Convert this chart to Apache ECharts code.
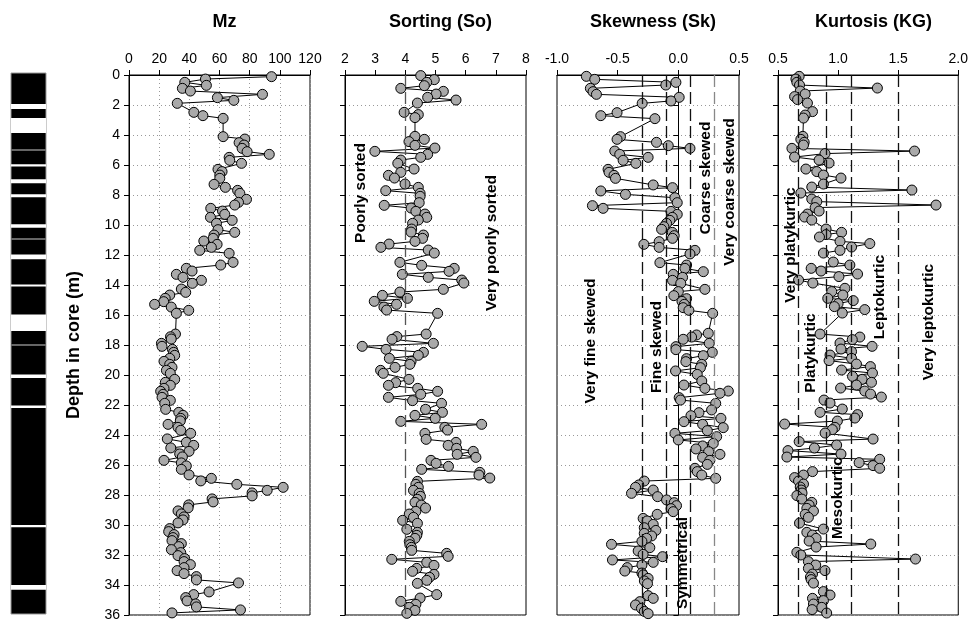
<!DOCTYPE html>
<html><head><meta charset="utf-8">
<script src="https://cdn.jsdelivr.net/npm/echarts/dist/echarts.min.js"></script>
<style>html,body{margin:0;padding:0;background:#fff}#c{width:971px;height:626px}</style>
</head><body><div id="c"></div><script>
// ---------- DATA ----------
const depthTicks = [0,2,4,6,8,10,12,14,16,18,20,22,24,26,28,30,32,34,36];
const coreGaps = [[2.07,2.4],[3.0,4.0],[6.07,6.22],[7.07,7.33],[8.07,8.27],[10.07,10.29],[12.07,12.4],[14.07,14.2],[16.07,17.17],[20.07,20.29],[22.13,22.29],[30.07,30.22],[34.07,34.38]];
const coreMarks = [5.13, 11.0, 18.05];

const mzDepth = [0.11,0.27,0.49,0.69,0.89,1.07,1.29,1.51,1.69,1.89,2.49,2.71,2.89,4.11,4.27,4.51,4.67,4.89,5.11,5.29,5.49,5.69,5.89,6.29,6.44,6.67,6.89,7.29,7.49,7.69,7.89,8.29,8.49,8.67,8.89,9.07,9.29,9.49,9.69,9.89,10.31,10.49,10.67,10.89,11.07,11.29,11.49,11.69,11.89,12.49,12.67,12.89,13.07,13.29,13.49,13.69,13.89,14.27,14.49,14.67,14.89,15.11,15.29,15.47,15.69,15.89,17.27,17.45,17.6,17.89,18.09,18.29,18.49,18.69,18.89,19.09,19.29,19.49,19.69,19.89,20.29,20.49,20.69,20.89,21.09,21.29,21.49,21.69,21.89,22.29,22.49,22.69,22.89,23.06,23.29,23.49,23.69,23.89,24.26,24.49,24.69,24.86,25.09,25.26,25.46,25.69,25.86,26.06,26.29,26.66,26.89,27.06,27.29,27.49,27.69,27.86,28.06,28.26,28.46,28.66,28.86,29.06,29.26,29.46,29.66,29.86,30.24,30.44,30.64,30.84,31.04,31.24,31.44,31.64,31.84,32.04,32.24,32.44,32.64,32.84,33.04,33.24,33.44,33.66,33.86,34.46,34.64,34.84,35.06,35.26,35.46,35.66,35.86];
const mzValue = [94.5,50.7,37,51.3,35.4,40.7,88.5,58.6,69.5,32,43,49,62.4,62.4,76.8,73,76.3,75,78.3,93,66.4,66.8,74.6,59,61.7,60.2,60.2,56.4,63.9,72,73.5,77.9,72.6,70.1,54.2,62,63.5,54,68.4,58,59,70.1,56.4,55.8,49.6,58.4,54.6,46.9,66.4,69,60.8,38,41.8,31.4,35.8,48,42,34.7,37.6,27,24,23,17,28,39.6,31.4,30.8,27.5,28,21.5,21.9,28.8,29.6,30.3,27,23.2,27,28.5,24.8,27.4,30.3,24.1,27.4,23.2,21,22.6,21.9,27.4,23.7,24.3,33,35.8,34.3,34,25.9,32.5,34.3,40.9,25.4,38,42.9,27.7,39.8,33.6,35.4,23.2,34.7,38,34.7,39.8,54.6,47.6,71.5,102.2,91.6,81.6,81.6,55.1,55.8,39.6,39.2,32.5,34.7,36.5,35.8,32.5,27,26.3,29.9,29.2,28.5,34.7,33,28.1,34.3,32.5,36.9,36.5,40.7,36.5,31.9,36.5,44.7,44.7,72.6,53.1,42.9,37.6,38.5,44.2,44.7,73.9,28.5];

const soDepth = [0.04,0.31,0.49,0.71,0.89,1.09,1.27,1.49,1.67,1.87,2.49,2.64,2.84,4.09,4.29,4.44,4.69,4.87,5.09,5.29,5.49,5.67,5.89,6.27,6.49,6.69,6.87,7.27,7.49,7.71,7.89,8.09,8.51,8.69,8.87,9.09,9.27,9.49,9.67,9.89,10.27,10.47,10.67,10.89,11.09,11.27,11.49,11.67,11.87,12.49,12.69,12.89,13.09,13.29,13.49,13.67,13.87,14.29,14.47,14.69,14.89,15.09,15.29,15.47,15.67,15.89,17.27,17.44,17.62,17.89,18.09,18.29,18.49,18.69,18.89,19.09,19.29,19.49,19.69,19.89,20.29,20.51,20.69,20.89,21.09,21.29,21.49,21.71,21.89,22.29,22.49,22.69,22.89,23.09,23.29,23.49,23.67,23.89,24.29,24.49,24.69,24.89,25.09,25.29,25.49,25.69,25.89,26.09,26.29,26.49,26.67,26.87,27.09,27.29,27.49,27.69,27.89,28.09,28.29,28.49,28.67,28.87,29.09,29.27,29.49,29.69,29.89,30.29,30.49,30.69,30.89,31.09,31.31,31.49,31.69,31.89,32.09,32.29,32.49,32.69,32.89,33.09,33.29,33.49,33.69,33.89,34.64,34.87,35.09,35.29,35.49,35.69,35.89];
const soValue = [4.51,4.96,4.71,4.63,3.85,5.26,5.02,4.74,5.68,4.4,3.96,4.43,4.32,4.32,4.63,4.12,4.32,4.98,2.99,4.74,4.51,3.85,3.75,4.29,3.85,3.44,3.64,3.99,4.43,3.35,4.49,4.49,4.46,3.3,4.19,4.35,4.65,4.71,4.43,4.24,4.21,4.19,4.6,4.57,4.32,3.46,3.19,4.76,4.96,3.82,4.54,5.62,5.45,3.9,4.76,5.87,5.94,5.26,3.82,3.24,4.07,2.97,3.71,3.29,3.38,5.07,4.69,3.72,3.56,4.93,2.57,3.36,4.6,4.43,3.47,4.19,4.15,3.66,3.18,3.27,4.12,3.68,3.44,4.41,5.07,4.51,3.44,4.24,5.2,4.67,5.23,4.32,4.99,3.85,6.53,5.31,5.4,4.65,4.69,5.68,5.42,5.7,6.25,5.72,6.34,4.85,5.02,5.43,4.54,6.47,6.44,6.8,4.4,4.35,4.43,4.27,4.46,4.5,4.4,4.32,4.53,4.67,4.35,4.13,4.27,3.91,4.4,4.05,4.4,4.38,4.32,4.13,4.15,4.2,4.21,5.37,5.42,3.55,4.71,4.95,4.38,4.24,4.95,4.8,4.71,4.4,5.04,4.49,3.85,4.35,4.13,4.32,4.05];

const skDepth = [0.09,0.29,0.49,0.67,0.89,1.11,1.29,1.49,1.73,1.89,2.51,2.71,2.91,4.11,4.29,4.49,4.71,4.89,5.07,5.29,5.49,5.69,5.89,6.29,6.49,6.69,6.89,7.33,7.51,7.73,7.96,8.18,8.51,8.71,8.89,9.09,9.29,9.49,9.69,9.89,10.11,10.29,10.49,10.71,10.89,11.11,11.29,11.49,11.69,11.93,12.51,12.67,12.89,13.11,13.29,13.49,13.69,13.89,14.29,14.44,14.71,14.91,15.09,15.29,15.51,15.69,15.89,17.22,17.33,17.47,17.62,17.89,18.11,18.31,18.49,18.71,18.91,19.11,19.29,19.51,19.73,19.96,20.4,20.67,20.89,21.07,21.22,21.51,21.67,21.89,22.33,22.51,22.71,22.89,23.11,23.29,23.51,23.71,23.89,24.11,24.33,24.56,24.73,24.93,25.11,25.29,25.49,25.69,25.96,26.22,26.44,26.67,26.89,27.07,27.33,27.49,27.67,27.89,28.11,28.33,28.51,28.71,28.91,29.11,29.29,29.56,29.73,29.96,30.18,30.36,30.56,30.73,30.89,31.09,31.29,31.51,31.73,31.96,32.11,32.33,32.49,32.67,32.84,33.07,33.2,33.33,33.56,33.73,33.91,34.71,34.89,35.11,35.33,35.56,35.76,35.91];
const skValue = [-0.758,-0.689,-0.02,-0.103,-0.725,-0.703,-0.675,0.007,-0.061,-0.298,-0.505,-0.639,-0.193,-0.477,-0.505,-0.18,-0.083,0.096,-0.524,-0.483,-0.249,-0.455,-0.35,-0.579,-0.571,-0.53,-0.518,-0.207,-0.048,-0.639,-0.436,-0.028,-0.009,-0.708,-0.62,-0.061,-0.009,-0.05,-0.07,-0.097,-0.119,-0.138,-0.05,-0.034,-0.048,-0.158,-0.284,-0.158,0.137,0.096,-0.152,0.068,0.054,0.206,-0.042,0.035,-0.048,0.02,0.219,0,-0.037,0.068,0.03,0.049,0.04,0.087,0.283,0.247,0.15,0.109,0.04,0.255,-0.02,-0.02,0.28,0.206,0.068,0.062,0.193,0.182,-0.023,0.156,0.193,0.046,0.219,0.412,0.343,0.007,0.018,0.308,0.274,0.17,0.104,0.351,0.046,0.2,0.37,0.239,-0.028,0.316,0,0.288,0.2,0.145,0.25,0.343,0.2,0.26,0.239,0.137,0.156,0.193,0.308,-0.281,-0.326,-0.353,-0.207,-0.386,-0.171,-0.097,-0.034,-0.015,-0.06,-0.042,-0.174,-0.29,-0.257,-0.207,-0.281,-0.185,-0.281,-0.22,-0.262,-0.3,-0.551,-0.235,-0.331,-0.29,-0.13,-0.543,-0.207,-0.3,-0.421,-0.441,-0.3,-0.29,-0.249,-0.28,-0.254,-0.249,-0.207,-0.317,-0.353,-0.304,-0.28,-0.249];

const kgDepth = [0.09,0.27,0.49,0.67,0.87,1.07,1.27,1.44,1.64,1.87,2.44,2.67,2.87,4.09,4.29,4.49,4.67,4.89,5.07,5.24,5.47,5.67,5.87,6.27,6.44,6.67,6.87,7.27,7.47,7.67,7.87,8.27,8.44,8.67,8.84,9.07,9.27,9.47,9.67,10.27,10.49,10.64,10.8,11.09,11.24,11.47,11.69,11.87,12.47,12.67,12.89,13.07,13.27,13.44,13.67,13.87,14.22,14.44,14.67,14.89,15.04,15.24,15.44,15.64,15.87,17.27,17.47,17.64,17.87,18.09,18.27,18.44,18.67,18.89,19.04,19.27,19.44,19.67,19.87,20.09,20.29,20.49,20.67,20.87,21.07,21.27,21.47,21.67,21.87,22.27,22.49,22.64,22.87,23.07,23.27,23.49,23.64,23.87,24.27,24.44,24.67,24.87,25.04,25.27,25.47,25.62,25.84,26.04,26.22,26.44,26.67,26.84,27.07,27.27,27.47,27.67,27.87,28.04,28.27,28.49,28.67,28.89,29.07,29.29,29.49,29.87,30.27,30.49,30.67,30.89,31.07,31.27,31.47,31.82,32.0,32.27,32.44,32.67,32.89,33.04,33.27,33.47,33.64,33.87,34.44,34.67,34.89,35.04,35.27,35.49,35.64,35.87];
const kgValue = [0.676,0.649,0.657,0.679,1.327,0.685,0.726,0.638,0.663,0.745,0.787,0.726,0.712,0.707,0.69,0.718,0.712,0.616,1.636,0.891,0.638,0.842,0.925,0.732,0.823,0.878,1.024,0.878,0.781,1.614,0.69,0.781,0.823,1.815,0.809,0.842,0.745,0.721,0.781,0.9,1.029,0.9,0.845,1.016,1.264,1.112,1.016,0.878,0.96,1.098,0.776,0.858,1.162,1.007,0.671,0.79,1.057,0.947,1.04,0.914,1.126,1.0,0.969,1.222,1.035,0.85,1.181,1.118,1.016,1.283,1.024,1.112,0.933,1.112,0.925,1.153,1.269,1.029,1.286,1.12,1.2,1.278,1.153,1.021,1.222,1.27,1.36,0.883,0.933,1.035,0.85,1.162,1.14,0.994,0.555,0.974,0.952,0.892,1.291,0.676,0.988,0.803,0.583,1.024,0.574,1.346,1.175,1.291,1.346,0.787,0.712,0.638,0.671,0.712,0.685,0.693,0.7,0.657,0.698,0.781,0.759,0.74,0.795,0.726,0.753,0.679,0.878,0.74,0.787,0.817,0.759,1.272,0.817,0.657,0.69,1.644,0.753,0.814,0.753,0.891,0.787,0.77,0.776,0.795,0.878,0.933,0.787,0.878,0.795,0.864,0.784,0.905];

const soLimits = [4];
const skLimits = [-0.3, -0.1, 0.1, 0.3];
const kgLimits = [0.67, 0.9, 1.11, 1.5];

const titles = ['Mz', 'Sorting (So)', 'Skewness (Sk)', 'Kurtosis (KG)'];
const yName = 'Depth in core (m)';

// ---------- LAYOUT ----------
const FONT = 'Arial, "Liberation Sans", sans-serif';
const TOP = 75, H = 540;
const panels = [
  {left:129, width:181, min:0, max:120, interval:20, dec:0, vgrid:true, d:mzDepth, v:mzValue, lim:[], limColor:[]},
  {left:345, width:181, min:2, max:8, interval:1, dec:0, vgrid:false, d:soDepth, v:soValue, lim:soLimits, limColor:['#555']},
  {left:557, width:182, min:-1, max:0.5, interval:0.5, dec:1, vgrid:false, d:skDepth, v:skValue, lim:skLimits, limColor:['#111','#111','#111','#888']},
  {left:778, width:181, min:0.5, max:2.0, interval:0.5, dec:1, vgrid:false, d:kgDepth, v:kgValue, lim:kgLimits, limColor:['#111','#111','#111','#111']}
];

const grids = [{left:11, top:73, width:35, height:541, show:true, borderColor:'#999', borderWidth:1, backgroundColor:'#000'}];
const xAxes = [{gridIndex:0, type:'value', min:0, max:1, show:false}];
const yAxes = [{gridIndex:0, type:'value', min:0, max:36, inverse:true, show:false}];
const series = [{
  type:'scatter', xAxisIndex:0, yAxisIndex:0, data:[[0.5,1]], symbolSize:0, silent:true,
  markArea:{silent:true, itemStyle:{color:'#fff'}, data: coreGaps.map(g=>[{yAxis:g[0]},{yAxis:g[1]}])},
  markLine:{silent:true, symbol:['none','none'], label:{show:false}, lineStyle:{color:'#666', width:2, type:'solid'}, data: coreMarks.map(m=>({yAxis:m}))}
}];
const titleArr = [];

panels.forEach((p,i)=>{
  const gi = i+1;
  grids.push({left:p.left, top:TOP, width:p.width, height:H, show:true, borderColor:'#000', borderWidth:1});
  xAxes.push({
    gridIndex:gi, type:'value', position:'top', min:p.min, max:p.max, interval:p.interval,
    axisLine:{show:true, lineStyle:{color:'#000', width:1}},
    axisTick:{show:true, inside:false, length:5, lineStyle:{color:'#000'}},
    axisLabel:{show:true, color:'#000', fontSize:14, fontFamily:FONT, margin:9,
      formatter: v => Number(v).toFixed(p.dec)},
    splitLine:{show:p.vgrid, lineStyle:{color:'#999', type:[1,3]}}
  });
  yAxes.push({
    gridIndex:gi, type:'value', min:0, max:36, interval:2, inverse:true,
    axisLine:{show:true, lineStyle:{color:'#000'}},
    axisTick:{show:true, inside:false, length:5, lineStyle:{color:'#000'}},
    axisLabel:{show:i===0, color:'#000', fontSize:14, fontFamily:FONT, margin:9},
    splitLine:{show:true, lineStyle:{color:'#999', type:[1,3]}},
    name: i===0 ? yName : '', nameLocation:'middle', nameRotate:90, nameGap:46,
    nameTextStyle:{color:'#000', fontSize:18, fontWeight:'bold', fontFamily:FONT}
  });
  const pts = p.d.map((d,k)=>[p.v[k], d]);
  series.push({
    type:'line', xAxisIndex:gi, yAxisIndex:gi, data:pts, symbol:'circle', symbolSize:10,
    showAllSymbol:true, animation:false, z:3,
    itemStyle:{color:'#a9a9a9', borderColor:'#000', borderWidth:1},
    lineStyle:{color:'#000', width:1},
    markLine:{silent:true, symbol:['none','none'], label:{show:false}, animation:false,
      data: p.lim.map((v,k)=>({xAxis:v, lineStyle:{color:p.limColor[k], width:1.3, type:[12,5]}}))}
  });
  titleArr.push({text:titles[i], left:p.left + p.width/2, top:8, textAlign:'center',
    textStyle:{fontSize:18, fontWeight:'bold', color:'#000', fontFamily:FONT}});
});

function vtext(txt, x, y){
  return {type:'text', x:x, y:y, rotation:Math.PI/2, z:10,
    style:{text:txt, fill:'#000', font:'bold 15.5px ' + FONT, textAlign:'center', textVerticalAlign:'middle'}};
}
const graphics = [
  vtext('Poorly sorted', 361, 193),
  vtext('Very poorly sorted', 492, 243),
  vtext('Very fine skewed', 591, 341),
  vtext('Fine skewed', 657, 347),
  vtext('Symmetrical', 683, 563),
  vtext('Coarse skewed', 706, 178),
  vtext('Very coarse skewed', 730, 192),
  vtext('Very platykurtic', 791, 245),
  vtext('Platykurtic', 811, 353),
  vtext('Mesokurtic', 838, 498),
  vtext('Leptokurtic', 880, 297),
  vtext('Very leptokurtic', 929, 322)
];

const chart = echarts.init(document.getElementById('c'), null, {renderer:'canvas'});
chart.setOption({
  animation:false,
  backgroundColor:'#fff',
  title:titleArr,
  grid:grids, xAxis:xAxes, yAxis:yAxes, series:series,
  graphic:graphics
});
</script></body></html>
